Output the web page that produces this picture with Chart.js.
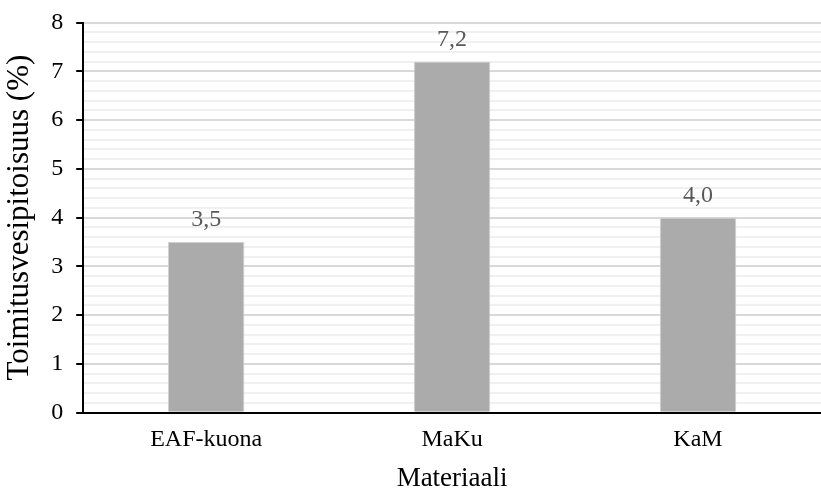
<!DOCTYPE html>
<html>
<head>
<meta charset="utf-8">
<script src="https://cdn.jsdelivr.net/npm/chart.js@4"></script>
<style>
  html, body { margin: 0; padding: 0; background: #fff; }
  #wrap { width: 821px; height: 488px; }
</style>
</head>
<body>
<div id="wrap"><canvas id="chartRef"></canvas></div>
<script>
const categories = ["EAF-kuona", "MaKu", "KaM"];
const moisture = [3.5, 7.2, 4.0];
const yTicks = [0, 1, 2, 3, 4, 5, 6, 7, 8];

const FONT = "'Liberation Serif', 'Times New Roman', serif";
const isMajor = (v) => Math.abs(v - Math.round(v)) < 1e-6;

// value labels above bars
const barLabels = {
    id: "barLabels",
    afterDatasetsDraw(chart) {
        const ctx = chart.ctx;
        const meta = chart.getDatasetMeta(0);
        ctx.save();
        ctx.font = "24px " + FONT;
        ctx.fillStyle = "#595959";
        ctx.textAlign = "center";
        ctx.textBaseline = "bottom";
        meta.data.forEach((bar, i) => {
            const txt = moisture[i].toFixed(1).replace(".", ",");
            ctx.fillText(txt, bar.x, bar.y - 10);
        });
        ctx.restore();
    },
};

document.addEventListener("DOMContentLoaded", () => {
    const ctx = document.getElementById("chartRef").getContext("2d");
    new Chart(ctx, {
        type: "bar",
        data: {
            labels: categories,
            datasets: [
                {
                    data: moisture,
                    backgroundColor: "#ababab",
                    borderColor: "#d0d0d0",
                    borderWidth: 1,
                    categoryPercentage: 1,
                    barPercentage: 0.311,
                },
            ],
        },
        options: {
            responsive: true,
            maintainAspectRatio: false,
            animation: false,
            // the original is cropped on the right, so the plot runs past the edge
            layout: { padding: { top: 4, right: -13, bottom: -3, left: 1 } },
            plugins: { legend: { display: false }, tooltip: { enabled: false } },
            scales: {
                x: {
                    grid: { display: false, tickLength: 0 },
                    border: { display: true, color: "#000", width: 2 },
                    ticks: { color: "#000", font: { family: FONT, size: 24, lineHeight: 1 }, padding: 15 },
                    title: {
                        display: true,
                        text: "Materiaali",
                        color: "#000",
                        font: { family: FONT, size: 27, lineHeight: 0.9 },
                        padding: { top: 0, bottom: 0 },
                    },
                },
                y: {
                    min: yTicks[0],
                    max: yTicks[yTicks.length - 1],
                    ticks: {
                        stepSize: 0.2,
                        autoSkip: false,
                        color: "#000",
                        font: { family: FONT, size: 24, lineHeight: 0.8 },
                        padding: 13,
                        callback: (v) => (isMajor(v) && yTicks.includes(Math.round(v)) ? String(Math.round(v)) : ""),
                    },
                    grid: {
                        color: (c) => (isMajor(c.tick.value) ? "#d9d9d9" : "#f0f0f0"),
                        lineWidth: 2,
                        tickColor: (c) => (isMajor(c.tick.value) ? "#000" : "rgba(0,0,0,0)"),
                        tickLength: 7,
                        tickWidth: 2,
                    },
                    border: { display: true, color: "#000", width: 2 },
                    title: {
                        display: true,
                        text: "Toimitusvesipitoisuus (%)",
                        color: "#000",
                        font: { family: FONT, size: 31 },
                        padding: { top: 0, bottom: 0 },
                    },
                },
            },
        },
        plugins: [barLabels],
    });
});
</script>
</body>
</html>
